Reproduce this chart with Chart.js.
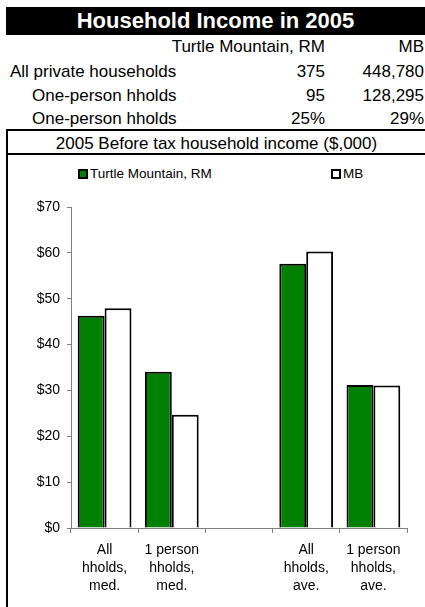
<!DOCTYPE html>
<html>
<head>
<meta charset="utf-8">
<script src="https://cdn.jsdelivr.net/npm/chart.js@4"></script>
<style>
  body { margin: 0; width: 425px; height: 607px; position: relative; background: #fff; overflow: hidden;
         font-family: "Liberation Sans", Arial, sans-serif; color: #000; }
  .abs { position: absolute; white-space: nowrap; }
  #title { left: 6px; right: 0; top: 7px; height: 28px; line-height: 28px; background: #000; color: #fff;
           font-weight: bold; font-size: 22px; text-align: center; }
  .row { font-size: 17px; line-height: 24px; height: 24px; }
  .c1 { right: 100px; }
  .c2 { right: 1px; }
  .hline { left: 6px; right: 0; height: 2px; background: #000; }
  #vline { left: 6px; top: 129px; width: 2px; bottom: 0; background: #000; }
  #sub { left: 8px; right: 0; top: 132px; text-align: center; font-size: 17px; line-height: 24px; }
  .sw { width: 10px; height: 10px; box-sizing: border-box; border: 2px solid #000; top: 169px; }
  .lg { font-size: 13.5px; line-height: 16px; top: 166px; }
  #wrap { left: 0; top: 156px; width: 425px; height: 451px; }
</style>
</head>
<body>
<div id="title" class="abs">Household Income in 2005</div>

<div class="abs row c1" style="top:35px">Turtle Mountain, RM</div>
<div class="abs row c2" style="top:35px">MB</div>

<div class="abs row" style="left:10px;top:60px">All private households</div>
<div class="abs row c1" style="top:60px">375</div>
<div class="abs row c2" style="top:60px">448,780</div>

<div class="abs row" style="left:32px;top:84px">One-person hholds</div>
<div class="abs row c1" style="top:84px">95</div>
<div class="abs row c2" style="top:84px">128,295</div>

<div class="abs row" style="left:32px;top:107px">One-person hholds</div>
<div class="abs row c1" style="top:107px">25%</div>
<div class="abs row c2" style="top:107px">29%</div>

<div class="abs hline" style="top:129px"></div>
<div id="sub" class="abs">2005 Before tax household income ($,000)</div>
<div class="abs hline" style="top:153px"></div>
<div id="vline" class="abs"></div>

<div class="abs sw" style="left:78px;background:#008000"></div>
<div class="abs lg" style="left:90px">Turtle Mountain, RM</div>
<div class="abs sw" style="left:331px;background:#fff"></div>
<div class="abs lg" style="left:343px">MB</div>

<div id="wrap" class="abs"><canvas id="chart"></canvas></div>

<script>
const categories = [
  ["All", "hholds,", "med."],
  ["1 person", "hholds,", "med."],
  "",
  ["All", "hholds,", "ave."],
  ["1 person", "hholds,", "ave."]
];
const turtleMountain = [46.3, 34.1, null, 57.6, 31.2];
const manitoba = [47.9, 24.7, null, 60.3, 31.1];
const yTicks = [0, 10, 20, 30, 40, 50, 60, 70];

const axisGray = "#7f7f7f";

new Chart(document.getElementById("chart"), {
  type: "bar",
  data: {
    labels: categories,
    datasets: [
      {
        label: "Turtle Mountain, RM",
        data: turtleMountain,
        backgroundColor: "#008000",
        borderColor: "#000",
        borderWidth: 2
      },
      {
        label: "MB",
        data: manitoba,
        backgroundColor: "#fff",
        borderColor: "#000",
        borderWidth: 2
      }
    ]
  },
  options: {
    responsive: true,
    maintainAspectRatio: false,
    animation: false,
    categoryPercentage: 0.8,
    barPercentage: 1.0,
    layout: { padding: { left: 0, top: 51, right: 18, bottom: 0 } },
    plugins: {
      legend: { display: false },
      tooltip: { enabled: false }
    },
    scales: {
      x: {
        grid: { drawOnChartArea: false, offset: true, tickLength: 5, color: axisGray, lineWidth: 1 },
        border: { color: axisGray, width: 1 },
        ticks: {
          color: "#000",
          padding: 8,
          maxRotation: 0,
          autoSkip: false,
          font: { family: "Liberation Sans", size: 14, lineHeight: 1.3 }
        },
        afterFit(scale) { scale.height = 79; }
      },
      y: {
        min: yTicks[0],
        max: yTicks[yTicks.length - 1],
        grid: { drawOnChartArea: false, tickLength: 4, color: axisGray, lineWidth: 1 },
        border: { color: axisGray, width: 1 },
        afterBuildTicks(scale) { scale.ticks = yTicks.map(v => ({ value: v })); },
        ticks: {
          color: "#000",
          padding: 7,
          font: { family: "Liberation Sans", size: 14 },
          callback: v => "$" + v
        },
        afterFit(scale) { scale.width = 71; }
      }
    }
  }
});
</script>
</body>
</html>
